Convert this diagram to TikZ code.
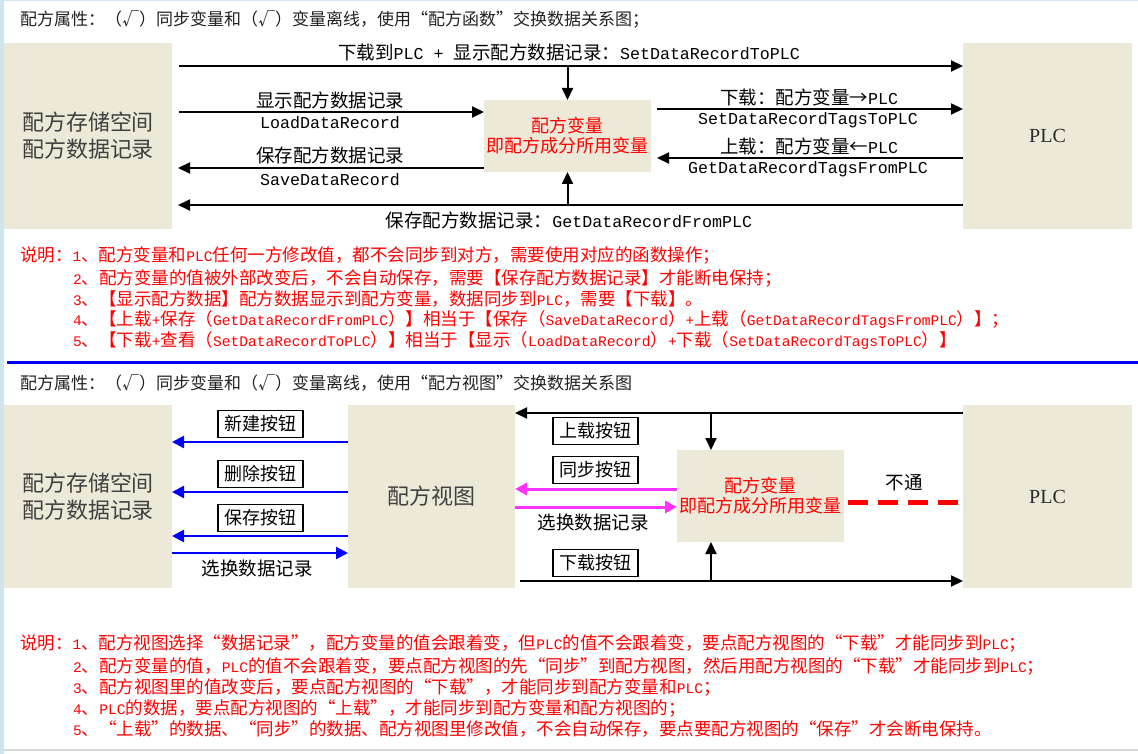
\documentclass[tikz,border=0pt]{standalone}
\usepackage{fontspec}
\setmainfont{Noto Sans CJK SC}
\newfontfamily\monoA{Liberation Mono}[Scale=0.9]
\newfontfamily\monoN{Liberation Mono}[Scale=0.833]
\newfontfamily\plcfont{Liberation Serif}
\usetikzlibrary{arrows.meta}
\definecolor{beige}{HTML}{ECE9D8}
\definecolor{edgeblue}{HTML}{CFE5EE}
\definecolor{boxtext}{HTML}{404040}
\definecolor{plctext}{HTML}{2A2A2A}
\definecolor{mag}{HTML}{FF33FF}
\definecolor{sepblue}{HTML}{0000F0}
\definecolor{bottomgray}{HTML}{D6D6D6}
\definecolor{titletext}{HTML}{222222}
\newcommand\MA[1]{{\monoA #1}}
\newcommand\MN[1]{{\monoN #1}}
\begin{document}
\begin{tikzpicture}[x=1pt,y=-1pt,
  box/.style={fill=beige,inner sep=0pt,outer sep=0pt},
  boxlabel/.style={text=boxtext,align=center,font=\fontsize{22}{27}\selectfont},
  plcbox/.style={box,text=plctext,font=\plcfont\fontsize{20}{20}\selectfont,minimum width=169pt,minimum height=186pt},
  varbox/.style={box,text=red,align=center,font=\fontsize{18}{20}\selectfont,minimum width=167pt},
  arr/.style={line width=2pt,-{Triangle[length=12pt,width=11pt]}},
  barr/.style={draw=blue,line width=2.5pt,-{Triangle[length=12pt,width=12pt]}},
  marr/.style={draw=mag,line width=3pt,-{Triangle[length=12pt,width=12pt]}},
  lbl/.style={inner sep=0pt,font=\fontsize{18.5}{20}\selectfont},
  btn/.style={draw,fill=white,line width=1.2pt,minimum width=85pt,minimum height=27pt,inner sep=0pt,font=\fontsize{18}{20}\selectfont},
  note/.style={anchor=west,inner sep=0pt,text=red,font=\fontsize{17.5}{20}\selectfont},
  titlestyle/.style={anchor=west,inner sep=0pt,font=\fontsize{17}{20}\selectfont,text=titletext},
  nopass/.style={draw=red,line width=5pt,dash pattern=on 20pt off 10pt},
]
\useasboundingbox (0,0) rectangle (1138,754);
\fill[white] (0,0) rectangle (1138,754);
\fill[edgeblue] (0,0) rectangle (1138,1.5);
\fill[edgeblue] (0,0) rectangle (3.5,754);
\fill[bottomgray] (3.5,749) rectangle (1138,751);

% ---------- title 1 ----------
\node[titlestyle] (t1) at (20,19) {配方属性：（√）同步变量和（√）变量离线，使用“配方函数”交换数据关系图；};

% ---------- diagram 1 ----------
\node[box,boxlabel,minimum width=168pt,minimum height=186pt] (L1) at (88,136) {配方存储空间\\配方数据记录};
\node[plcbox] (P1) at (1047.5,136) {PLC};
\node[varbox,minimum height=72pt] (V1) at (567.5,136) {配方变量\\即配方成分所用变量};

\coordinate (a1s) at (179,66);
\draw[arr] (a1s) -- (a1s -| P1.west);
\draw[arr] (V1.north |- a1s) -- (V1.north);
\node[lbl] (a1l) at (569,52) {下载到\MA{PLC + }显示配方数据记录：\MA{SetDataRecordToPLC}};

\coordinate (a2s) at (179,112);
\draw[arr] (a2s) -- (a2s -| V1.west);
\node[lbl] (a2l) at (330,100) {显示配方数据记录};
\node[lbl] (a2m) at (330,123) {\MA{LoadDataRecord}};

\coordinate (a3e) at (178,168);
\draw[arr] (a3e -| V1.west) -- (a3e);
\node[lbl] (a3l) at (330,155) {保存配方数据记录};
\node[lbl] (a3m) at (330,180) {\MA{SaveDataRecord}};

\coordinate (a4e) at (178,205);
\draw[arr] (a4e -| P1.west) -- (a4e);
\draw[arr] (V1.south |- a4e) -- (V1.south);
\node[lbl] (a4l) at (569,220) {保存配方数据记录：\MA{GetDataRecordFromPLC}};

\coordinate (a5s) at (657,109);
\draw[arr] (a5s) -- (a5s -| P1.west);
\node[lbl] (a5l) at (809,97) {下载：配方变量→\MA{PLC}};
\node[lbl] (a5m) at (808,120) {\MA{SetDataRecordTagsToPLC}};

\coordinate (a6e) at (657,158);
\draw[arr] (a6e -| P1.west) -- (a6e);
\node[lbl] (a6l) at (809,146) {上载：配方变量←\MA{PLC}};
\node[lbl] (a6m) at (808,169) {\MA{GetDataRecordTagsFromPLC}};

% ---------- notes 1 ----------
\node[note] (n1) at (20,255) {说明：\MN{1}、配方变量和\MN{PLC}任何一方修改值，都不会同步到对方，需要使用对应的函数操作；};
\node[note] (n2) at (73,278) {\MN{2}、配方变量的值被外部改变后，不会自动保存，需要【保存配方数据记录】才能断电保持；};
\node[note] (n3) at (73,299) {\MN{3}、【显示配方数据】配方数据显示到配方变量，数据同步到\MN{PLC}，需要【下载】。};
\node[note] (n4) at (73,320) {\MN{4}、【上载\MN{+}保存（\MN{GetDataRecordFromPLC}）】相当于【保存（\MN{SaveDataRecord}）\MN{+}上载（\MN{GetDataRecordTagsFromPLC}）】；};
\node[note] (n5) at (73,341) {\MN{5}、【下载\MN{+}查看（\MN{SetDataRecordToPLC}）】相当于【显示（\MN{LoadDataRecord}）\MN{+}下载（\MN{SetDataRecordTagsToPLC}）】};

% ---------- separator ----------
\coordinate (s1) at (7,362.5);
\coordinate (s2) at (1138,362.5);
\draw[sepblue,line width=2.7pt] (s1) -- (s2);

% ---------- title 2 ----------
\node[titlestyle] (t2) at (20,383) {配方属性：（√）同步变量和（√）变量离线，使用“配方视图”交换数据关系图};

% ---------- diagram 2 ----------
\node[box,boxlabel,minimum width=168pt,minimum height=183pt] (L2) at (88,496.5) {配方存储空间\\配方数据记录};
\node[box,boxlabel,minimum width=167pt,minimum height=183pt] (RV) at (431.5,496.5) {配方视图};
\node[plcbox,minimum height=183pt] (P2) at (1047.5,496.5) {PLC};
\node[varbox,minimum height=92pt] (V2) at (760.5,496) {配方变量\\即配方成分所用变量};

\draw[barr] (RV.west |- 0,442) -- (L2.east |- 0,442);
\node[btn] (bn) at (260.5,424) {新建按钮};
\draw[barr] (RV.west |- 0,492) -- (L2.east |- 0,492);
\node[btn] (bd) at (260.5,474) {删除按钮};
\draw[barr] (RV.west |- 0,536) -- (L2.east |- 0,536);
\node[btn] (bs) at (260.5,518) {保存按钮};
\draw[barr] (L2.east |- 0,553) -- (RV.west |- 0,553);
\node[lbl] (bl) at (257,568) {选换数据记录};

\coordinate (c1) at (P2.west |- 0,413);
\draw[arr] (c1) -- (c1 -| RV.east);
\coordinate (c1v) at (711,413);
\draw[arr] (c1v) -- (c1v |- V2.north);
\node[btn] (bu) at (595.5,431) {上载按钮};
\node[btn] (bt) at (595.5,470) {同步按钮};

\draw[marr] (V2.west |- 0,489) -- (RV.east |- 0,489);
\draw[marr] (RV.east |- 0,507) -- (V2.west |- 0,507);
\node[lbl] (ml) at (593,522) {选换数据记录};

\node[btn] (bx) at (595.5,563) {下载按钮};
\coordinate (c2) at (520,581);
\draw[arr] (c2) -- (c2 -| P2.west);
\coordinate (c2v) at (711,580);
\draw[arr] (c2v) -- (c2v |- V2.south);

\coordinate (d1) at (848,502);
\draw[nopass] (d1) -- (d1 -| P2.west);
\node[lbl] (dl) at (904,483) {不通};

% ---------- notes 2 ----------
\node[note] (m1) at (20,643) {说明：\MN{1}、配方视图选择“数据记录”，配方变量的值会跟着变，但\MN{PLC}的值不会跟着变，要点配方视图的“下载”才能同步到\MN{PLC}；};
\node[note] (m2) at (73,666) {\MN{2}、配方变量的值，\MN{PLC}的值不会跟着变，要点配方视图的先“同步”到配方视图，然后用配方视图的“下载”才能同步到\MN{PLC}；};
\node[note] (m3) at (73,687) {\MN{3}、配方视图里的值改变后，要点配方视图的“下载”，才能同步到配方变量和\MN{PLC}；};
\node[note] (m4) at (73,708) {\MN{4}、\MN{PLC}的数据，要点配方视图的“上载”，才能同步到配方变量和配方视图的；};
\node[note] (m5) at (73,729) {\MN{5}、“上载”的数据、“同步”的数据、配方视图里修改值，不会自动保存，要点要配方视图的“保存”才会断电保持。};
\end{tikzpicture}
\end{document}
